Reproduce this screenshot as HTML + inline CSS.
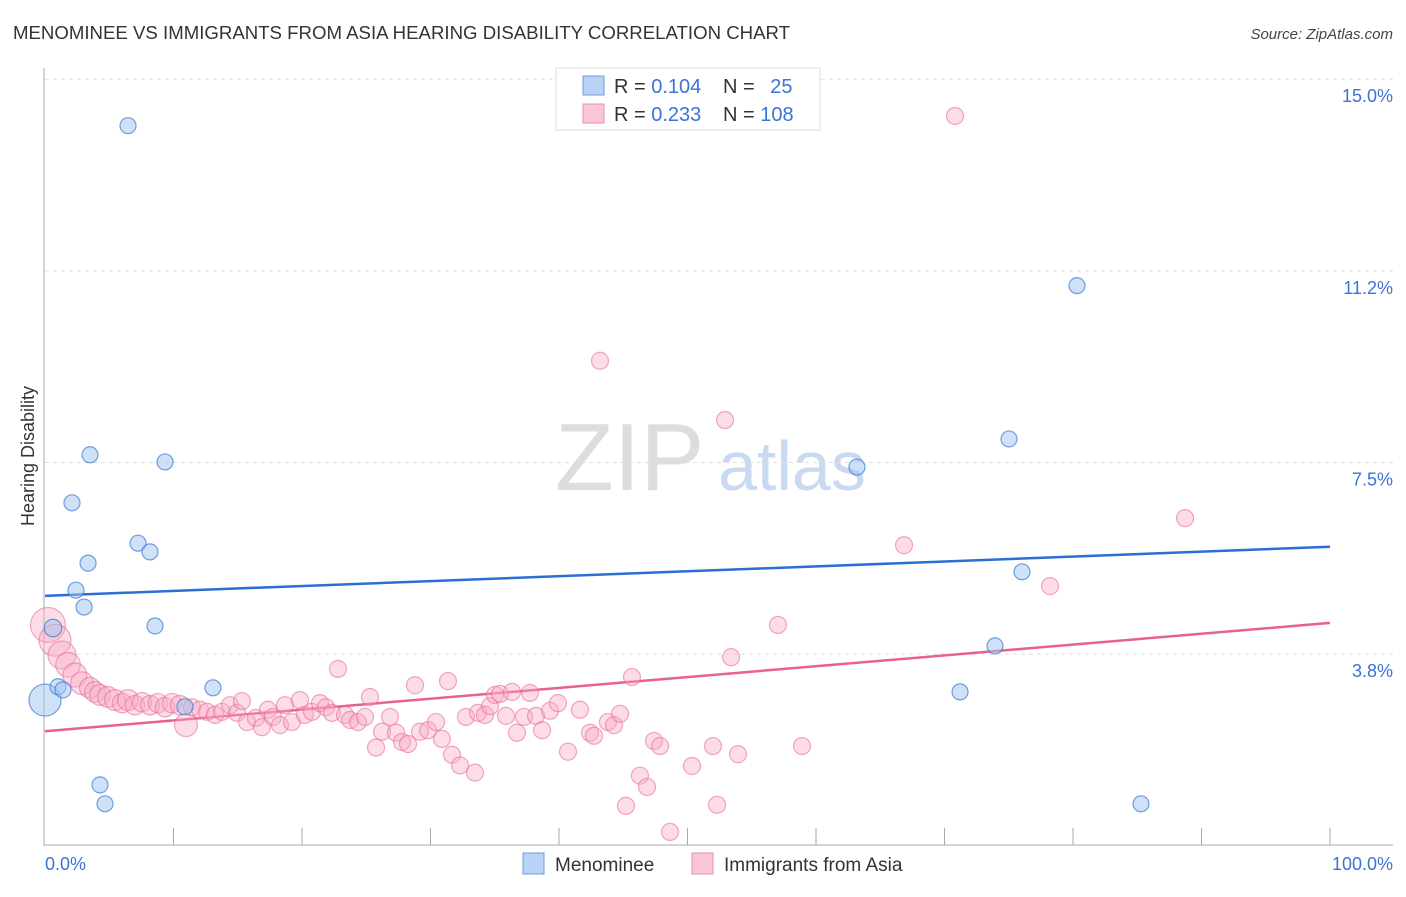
<!DOCTYPE html>
<html><head><meta charset="utf-8"><style>
body{margin:0;background:#fff;font-family:"Liberation Sans",sans-serif;}
svg text{font-family:"Liberation Sans",sans-serif;}
</style></head><body>
<svg id="chart" width="1406" height="892" viewBox="0 0 1406 892" xmlns="http://www.w3.org/2000/svg">
<text x="13" y="39" font-size="18" fill="#333" textLength="777" lengthAdjust="spacingAndGlyphs">MENOMINEE VS IMMIGRANTS FROM ASIA HEARING DISABILITY CORRELATION CHART</text>
<text x="1393" y="39" font-size="15" fill="#444" font-style="italic" text-anchor="end">Source: ZipAtlas.com</text>
<g>
<text x="555" y="490" font-size="96" fill="#ddd" font-family="Liberation Serif, serif">ZIP</text>
<text x="718" y="490" font-size="70" fill="#c9d9f2">atlas</text>
</g>
<g id="grid"></g>
<g id="axes"></g>
<g id="lines"></g>
<g id="pink"></g>
<g id="blue"></g>
<g>
<rect x="556" y="68" width="264" height="62" fill="#fff" stroke="#ddd"/>
<rect x="583" y="76" width="21" height="19" fill="#b9d3f5" stroke="#6a9be0"/>
<rect x="583" y="104" width="21" height="19" fill="#f9c6d6" stroke="#ea8fae"/>
<text x="614" y="93" font-size="20" fill="#333">R = <tspan fill="#3b73d9">0.104</tspan></text>
<text x="723" y="93" font-size="20" fill="#333">N = <tspan fill="#3b73d9" dx="10">25</tspan></text>
<text x="614" y="121" font-size="20" fill="#333">R = <tspan fill="#3b73d9">0.233</tspan></text>
<text x="723" y="121" font-size="20" fill="#333">N = <tspan fill="#3b73d9">108</tspan></text>
</g>
<g>
<rect x="523" y="853" width="21" height="21" fill="#b9d3f5" stroke="#6a9be0"/>
<text x="555" y="871" font-size="19" fill="#333">Menominee</text>
<rect x="692" y="853" width="21" height="21" fill="#f9c6d6" stroke="#ea8fae"/>
<text x="724" y="871" font-size="19" fill="#333">Immigrants from Asia</text>
</g>
<text transform="translate(34,456) rotate(-90)" font-size="18" fill="#333" text-anchor="middle">Hearing Disability</text>
</svg>
<script>
const yTicks=[3.8,7.5,11.2,15.0];
const yTickVals=[3.75,7.5,11.25,15];
const xTicks=[0,10,20,30,40,50,60,70,80,90,100];
const blueX=[0.0,0.62,1.01,1.40,2.10,2.41,3.04,3.35,3.50,4.28,4.67,6.46,7.24,8.17,8.56,9.34,10.89,13.07,63.19,71.21,73.93,75.02,76.03,80.31,85.29];
const blueY=[2.85,4.26,3.11,3.05,6.71,5.00,4.67,5.53,7.65,1.19,0.82,14.09,5.92,5.75,4.30,7.51,2.72,3.09,7.41,3.01,3.91,7.96,5.36,10.96,0.82];
const blueW=[4,1.2,1,1,1,1,1,1,1,1,1,1,1,1,1,1,1,1,1,1,1,1,1,1,1];
const pinkX=[0.23,0.78,1.32,1.79,2.33,2.88,3.50,3.89,4.28,4.90,5.45,5.99,6.46,7.00,7.55,8.17,8.79,9.34,9.88,10.51,10.97,11.44,12.06,12.61,13.23,13.77,14.40,14.94,15.33,15.72,16.42,16.89,17.35,17.74,18.29,18.68,19.22,19.84,20.23,20.78,21.40,21.87,22.33,22.80,23.35,23.74,24.36,24.90,25.29,25.76,26.23,26.85,27.32,27.78,28.25,28.79,29.18,29.81,30.43,30.89,31.36,31.67,32.30,32.76,33.46,33.70,34.24,34.63,35.02,35.41,35.88,36.34,36.73,37.28,37.74,38.21,38.68,39.30,39.92,40.70,41.63,42.41,42.72,43.81,44.28,44.75,45.21,45.68,46.30,46.85,47.39,47.86,48.64,50.35,51.98,52.30,53.39,53.93,57.04,58.91,52.92,43.19,66.85,70.82,78.21,88.72];
const pinkY=[4.32,4.02,3.73,3.54,3.34,3.18,3.09,3.01,2.95,2.91,2.85,2.79,2.85,2.75,2.81,2.75,2.79,2.71,2.79,2.75,2.36,2.71,2.66,2.62,2.56,2.62,2.75,2.60,2.83,2.42,2.50,2.32,2.66,2.52,2.36,2.75,2.42,2.85,2.56,2.62,2.79,2.71,2.60,3.46,2.56,2.46,2.42,2.52,2.91,1.92,2.23,2.52,2.21,2.03,1.99,3.14,2.23,2.26,2.42,2.09,3.22,1.78,1.57,2.52,1.43,2.60,2.56,2.73,2.95,2.97,2.54,3.01,2.21,2.52,2.99,2.54,2.26,2.64,2.79,1.84,2.66,2.21,2.15,2.42,2.36,2.58,0.78,3.30,1.37,1.15,2.05,1.95,0.27,1.56,1.95,0.80,3.69,1.79,4.32,1.95,8.33,9.49,5.88,14.28,5.08,6.41];
const pinkW=[4.2,3.5,2.7,2.1,2.0,1.8,1.5,1.5,1.5,1.5,1.5,1.3,1.5,1.3,1.3,1.3,1.3,1.3,1.3,1.3,1.8];
const blueLine=[4.89,5.85];
const pinkLine=[2.24,4.36];
const NS='http://www.w3.org/2000/svg';
const X0=45,X1=1330,Y0=845.7,YS=51.1;
function sx(v){return X0+(X1-X0)*v/100;}
function sy(v){return Y0-v*YS;}
function mk(tag,attrs,parent){const e=document.createElementNS(NS,tag);for(const k in attrs)e.setAttribute(k,attrs[k]);parent.appendChild(e);return e;}
const grid=document.getElementById('grid');
yTickVals.forEach((v,i)=>{
  const l=mk('line',{x1:45,x2:1393,y1:sy(v),y2:sy(v),stroke:'#ddd','stroke-dasharray':'4,4'},grid);
  
  
  const t=mk('text',{x:1393,y:sy(v)+23,'font-size':18,fill:'#3b73d9','text-anchor':'end'},grid);
  t.textContent=yTicks[i].toFixed(1)+'%';
  
  
});
const axes=document.getElementById('axes');
mk('line',{x1:44,x2:44,y1:68,y2:846,stroke:'#aaa'},axes);
mk('line',{x1:44,x2:1393,y1:845,y2:845,stroke:'#aaa'},axes);
xTicks.forEach(v=>{
  if(v===0)return;
  const l=mk('line',{x1:sx(v),x2:sx(v),y1:828,y2:845,stroke:'#aaa'},axes);
  
  
});
let t0=mk('text',{x:45,y:870,'font-size':18,fill:'#3b73d9'},axes);t0.textContent='0.0%';


let t1=mk('text',{x:1393,y:870,'font-size':18,fill:'#3b73d9','text-anchor':'end'},axes);t1.textContent='100.0%';


const lines=document.getElementById('lines');
const bl=mk('line',{x1:sx(0),x2:sx(100),y1:sy(blueLine[0]),y2:sy(blueLine[1]),stroke:'#2a6fd6','stroke-width':2.5},lines);


const pl=mk('line',{x1:sx(0),x2:sx(100),y1:sy(pinkLine[0]),y2:sy(pinkLine[1]),stroke:'#e8608e','stroke-width':2.5},lines);


const pg=document.getElementById('pink');
pinkX.forEach((x,i)=>{
  const w=pinkW[i]||1;
  const c=mk('circle',{cx:sx(x),cy:sy(pinkY[i]),r:8.5*Math.sqrt(w),fill:'rgba(247,170,196,0.4)',stroke:'rgba(232,110,150,0.6)','stroke-width':1.2},pg);
  
  
});
const bg=document.getElementById('blue');
blueX.forEach((x,i)=>{
  const w=blueW[i]||1;
  const c=mk('circle',{cx:sx(x),cy:sy(blueY[i]),r:8*Math.sqrt(w),fill:'rgba(160,195,240,0.5)',stroke:'rgba(60,120,210,0.7)','stroke-width':1.2},bg);
  
  
});
</script>
</body></html>
